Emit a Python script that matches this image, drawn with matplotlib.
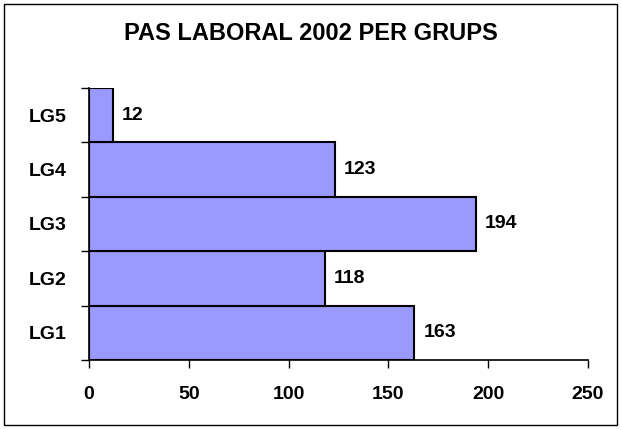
import matplotlib.pyplot as plt
from matplotlib.patches import Rectangle
from matplotlib.ticker import FixedLocator

# data
groups = ["LG1", "LG2", "LG3", "LG4", "LG5"]
workers = [163, 118, 194, 123, 12]
x_ticks = [0, 50, 100, 150, 200, 250]

plt.rcParams["font.family"] = ["Liberation Sans", "DejaVu Sans"]
plt.rcParams["font.weight"] = "bold"

fig = plt.figure(figsize=(6.21, 4.29), dpi=100)
ax = fig.add_axes([89 / 621, 69 / 429, 499 / 621, 272 / 429])

pos = list(range(len(groups)))
ax.barh(pos, workers, height=1.0, color="#9999FF", edgecolor="black", linewidth=1.5)

for y, v in zip(pos, workers):
    ax.text(v + 4.5, y, str(v), va="center", ha="left", fontsize=14, fontweight="bold")

ax.set_xlim(0, 250)
ax.set_ylim(-0.5, len(groups) - 0.5)
ax.set_xticks(x_ticks)
ax.set_xticklabels([str(t) for t in x_ticks], fontsize=14, fontweight="bold")
ax.set_yticks(pos)
ax.set_yticklabels(groups, fontsize=14, fontweight="bold")
ax.yaxis.set_minor_locator(FixedLocator([i - 0.5 for i in range(len(groups) + 1)]))
ax.tick_params(axis="y", which="major", length=0, pad=16)
ax.tick_params(axis="y", which="minor", length=6, width=1)
ax.tick_params(axis="x", which="major", length=6, width=1, pad=13)

for side in ["top", "right"]:
    ax.spines[side].set_visible(False)
ax.spines["left"].set_linewidth(1.2)
ax.spines["bottom"].set_linewidth(1.2)

fig.text(0.5, 1 - 33 / 429, "PAS LABORAL 2002 PER GRUPS", ha="center", va="center",
         fontsize=17, fontweight="bold")

# outer chart border
fig.patches.append(Rectangle((4 / 621, 4 / 429), 613 / 621, 421 / 429, transform=fig.transFigure,
                             fill=False, edgecolor="black", linewidth=1))

plt.savefig("out.png", dpi=100)
